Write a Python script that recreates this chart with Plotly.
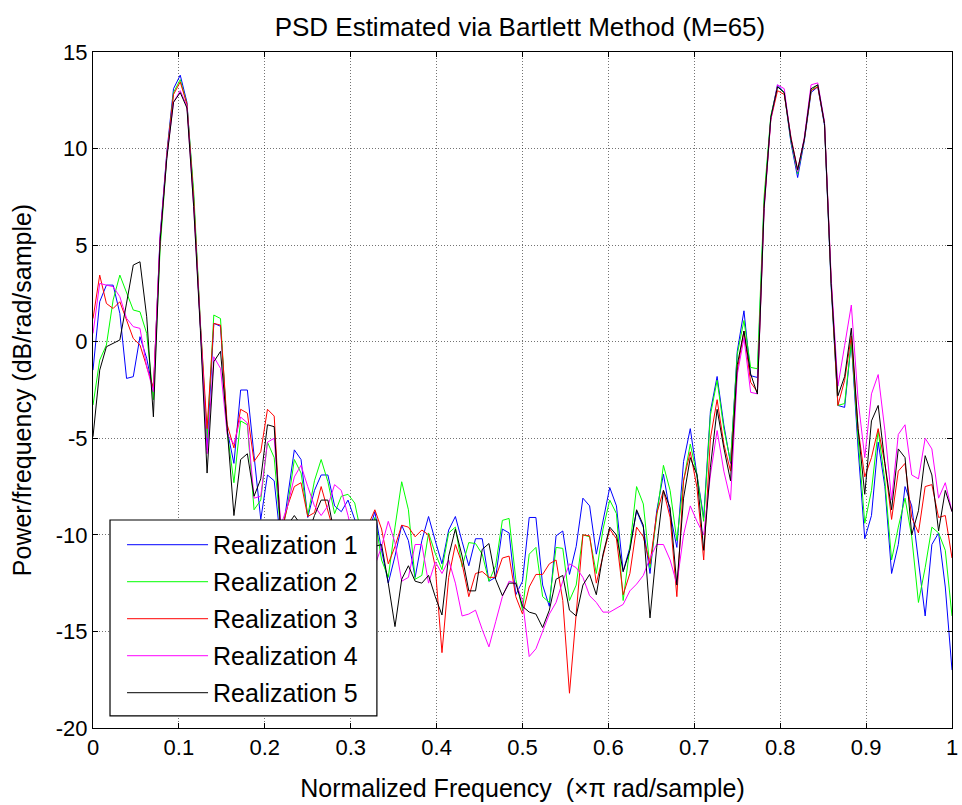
import numpy as np
import plotly.graph_objects as go

# Normalized frequency grid (129 bins, 0..1 x pi rad/sample)
n_bins = 129
freq = np.arange(n_bins) / (n_bins - 1)

real1 = [-1.47, 2.07, 2.93, 2.93, 1.47, -1.9, -1.81, 0.26, -0.86, -2.6,
         5.5, 9.8, 13.1, 13.8, 12.4, 7.5, 0.8, -5.6, 0.95, 0.8,
         -4.6, -6.3, -2.5, -2.5, -5.9, -9.2, -6.9, -7.2, -10.5, -8.0,
         -5.6, -6.1, -9.1, -7.7, -6.9, -6.9, -8.5, -8.8, -8.2, -9.2,
         -10.3, -10.0, -8.8, -10.8, -12.5, -11.1, -9.5, -10.3, -12.2, -10.3,
         -9.05, -10.3, -11.5, -9.75, -9.05, -10.35, -11.6, -10.2, -10.2, -12.4,
         -12.2, -9.7, -9.9, -13.1, -12.4, -9.1, -9.1, -12.6, -13.7, -10.05,
         -9.8, -12.05, -10.6, -8.1, -8.5, -11.0, -9.2, -7.55, -8.5, -11.9,
         -10.65, -8.76, -9.6, -12.0, -8.76, -6.86, -8.9, -10.65, -6.2, -4.5,
         -6.9, -9.1, -3.6, -1.8, -4.3, -6.3, -0.5, 1.6, -1.76, -1.85,
         7.2, 11.6, 13.3, 12.9, 10.3, 8.5, 10.4, 12.9, 13.2, 11.2,
         2.8, -3.3, -3.4, 0.0, -5.5, -10.2, -9.0, -5.2, -7.5, -12.0,
         -10.5, -7.5, -8.5, -11.5, -14.2, -10.5, -9.9, -12.7, -17.0]

real2 = [-3.28, -0.95, -0.17, 2.16, 3.45, 2.5, 1.64, 1.55, 0.43, -3.0,
         4.8, 9.6, 12.9, 13.57, 12.3, 7.8, 1.0, -5.0, 1.38, 1.2,
         -4.7, -7.3, -4.1, -4.3, -8.7, -8.2, -5.2, -6.0, -10.0, -8.5,
         -6.1, -6.8, -9.0, -7.2, -6.1, -7.25, -8.9, -8.0, -7.9, -8.35,
         -10.0, -10.5, -9.1, -11.3, -12.2, -9.6, -7.25, -8.7, -12.3, -12.1,
         -9.9, -10.96, -11.8, -9.9, -9.6, -11.65, -10.4, -10.45, -11.0, -12.4,
         -11.6, -9.25, -9.15, -12.3, -13.9, -11.0, -10.65, -13.2, -13.5, -10.65,
         -10.7, -13.4, -12.6, -10.0, -10.1, -12.0, -9.7, -8.2, -8.9, -13.4,
         -10.65, -7.5, -8.4, -11.7, -8.9, -6.4, -7.7, -10.3, -7.2, -5.3,
         -6.9, -9.3, -3.8, -2.0, -4.5, -6.2, -0.65, 1.1, -1.33, -1.4,
         7.5, 11.7, 13.2, 12.9, 10.4, 8.7, 10.5, 13.0, 13.3, 11.3,
         3.0, -3.3, -3.2, 0.0, -5.0, -9.4, -7.7, -4.6, -7.2, -11.3,
         -9.6, -8.1, -10.1, -13.5, -11.7, -9.6, -9.9, -10.8, -14.2]

real3 = [1.2, 3.45, 1.98, 1.72, 2.07, 1.12, 0.17, -0.17, -1.29, -2.4,
         5.3, 9.7, 12.8, 13.45, 12.3, 7.4, 0.9, -4.5, 0.95, 0.86,
         -4.3, -5.5, -3.5, -3.7, -6.2, -5.7, -3.5, -3.85, -10.0, -8.5,
         -7.5, -7.3, -9.05, -8.85, -7.5, -8.8, -10.0, -10.5, -10.2, -10.0,
         -9.8, -9.5, -8.7, -9.7, -11.5, -10.6, -9.5, -9.6, -10.1, -9.75,
         -10.0, -11.65, -16.1, -12.2, -10.5, -11.5, -13.2, -12.0, -11.9, -12.2,
         -12.2, -11.2, -11.1, -13.2, -14.1, -12.7, -12.05, -12.05, -11.5, -11.3,
         -13.4, -18.2, -14.3, -10.0, -10.05, -12.5, -11.1, -9.7, -10.2, -13.1,
         -12.0, -9.6, -10.1, -11.5, -8.9, -7.7, -9.1, -13.2, -7.2, -5.7,
         -7.55, -11.3, -5.0, -3.0, -5.3, -6.7, -1.5, 0.55, -2.1, -2.6,
         7.0, 11.5, 13.0, 12.8, 10.6, 8.9, 10.5, 13.0, 13.2, 11.3,
         3.1, -3.3, -2.0, 0.3, -4.5, -7.0, -6.0, -4.5, -6.3, -9.2,
         -6.7, -6.3, -9.1, -9.9, -7.5, -7.4, -9.1, -9.0, -11.2]

real4 = [0.43, 3.02, 2.93, 2.85, 2.33, 1.21, 0.78, 0.69, -1.29, -2.6,
         5.4, 9.6, 12.4, 13.0, 12.2, 7.0, 0.8, -5.8, -0.78, -1.38,
         -4.8, -5.3, -3.9, -4.2, -8.1, -8.0, -5.2, -5.0, -9.5, -8.5,
         -7.0, -6.4, -7.5, -8.5, -9.0, -8.5, -7.4, -7.7, -9.0, -10.5,
         -11.0, -12.0, -11.6, -10.6, -9.3, -10.4, -12.4, -12.2, -10.5, -10.5,
         -12.5, -11.4, -12.0, -11.3, -12.5, -14.2, -14.1, -13.9, -14.9, -15.8,
         -14.5, -13.2, -12.4, -12.5, -13.4, -16.3, -15.9, -15.0, -14.1, -13.5,
         -12.4, -11.5, -11.7, -12.2, -13.15, -13.5, -14.0, -14.0, -13.8, -13.6,
         -12.9, -12.55, -12.1, -11.2, -10.5, -10.5, -11.3, -12.55, -10.0, -8.5,
         -9.3, -10.0, -6.9, -4.6, -6.7, -8.2, -1.7, 0.2, -2.62, -2.7,
         6.8, 11.5, 13.3, 13.1, 10.5, 8.8, 10.6, 13.3, 13.4, 11.4,
         3.3, -2.3, -0.2, 1.9, -3.0, -6.0, -2.7, -1.7, -4.6, -8.2,
         -4.8, -4.3, -6.9, -7.1, -5.0, -5.55, -8.1, -7.3, -8.8]

real5 = [-4.92, -1.47, -0.26, -0.09, 0.09, 2.0, 3.97, 4.14, 1.29, -3.89,
         5.2, 9.5, 12.4, 12.9, 12.1, 7.0, 0.6, -6.8, -1.04, -0.5,
         -4.5, -9.0, -6.1, -5.8, -8.0, -7.1, -4.3, -4.4, -10.0, -9.5,
         -9.0, -9.5, -10.0, -9.0, -8.2, -8.2, -10.0, -11.0, -12.0, -11.0,
         -10.5, -10.5, -10.6, -10.5, -12.5, -14.75, -12.3, -11.6, -12.4, -12.5,
         -12.1, -13.2, -14.15, -11.1, -9.7, -11.1, -12.9, -12.9, -10.75, -10.45,
         -12.3, -13.15, -12.5, -12.5, -13.7, -14.0, -14.1, -14.8, -13.9, -12.3,
         -12.1, -13.9, -14.2, -12.6, -12.05, -13.1, -11.0, -9.6, -10.0, -11.9,
         -10.8, -8.7, -9.5, -14.3, -10.65, -7.7, -8.6, -12.6, -8.1, -6.0,
         -6.9, -10.8, -6.5, -3.5, -5.5, -7.2, -1.2, 0.55, -1.67, -2.71,
         6.9, 11.6, 13.2, 12.9, 10.5, 8.9, 10.5, 13.1, 13.3, 11.3,
         3.0, -2.8, -1.8, 0.7, -4.5, -7.9, -4.1, -3.3, -6.3, -8.7,
         -5.55, -6.0, -10.0, -8.75, -5.9, -6.9, -9.8, -7.7, -8.8]

series_names = ["Realization 1", "Realization 2", "Realization 3",
                "Realization 4", "Realization 5"]
series_values = [real1, real2, real3, real4, real5]
series_colors = ["#0000ff", "#00ff00", "#ff0000", "#ff00ff", "#000000"]

x_tickvals = [0, 0.1, 0.2, 0.3, 0.4, 0.5, 0.6, 0.7, 0.8, 0.9, 1.0]
x_ticktext = ["0", "0.1", "0.2", "0.3", "0.4", "0.5", "0.6", "0.7", "0.8", "0.9", "1"]
y_tickvals = [-20, -15, -10, -5, 0, 5, 10, 15]
y_ticktext = ["-20", "-15", "-10", "-5", "0", "5", "10", "15"]

FONT = "Arial, Liberation Sans, sans-serif"

fig = go.Figure()
for i, (name, vals, col) in enumerate(zip(series_names, series_values, series_colors)):
    fig.add_trace(go.Scatter(
        x=freq, y=vals, mode="lines", name=name,
        line=dict(color=col, width=1),
        legendgroup=f"g{i}",
    ))

axis_common = dict(
    showline=True, linecolor="black", linewidth=1, mirror="ticks",
    ticks="inside", ticklen=5, tickcolor="black", automargin=False,
    showgrid=True, gridcolor="rgba(0,0,0,0.55)", griddash="1px,2px", gridwidth=1,
    zeroline=False, tickfont=dict(family=FONT, size=22, color="black"),
)

# legend frame (white box drawn over the traces)
fig.add_shape(type="rect", xref="paper", yref="paper",
              x0=0.0198, x1=0.3305, y0=0.0178, y1=0.3077,
              line=dict(color="black", width=1.2), fillcolor="white", layer="above")

fig.update_layout(
    width=962, height=805,
    margin=dict(l=93, r=10, t=52, b=77),
    paper_bgcolor="white", plot_bgcolor="white",
    title=dict(text="PSD Estimated via Bartlett Method (M=65)",
               xref="paper", x=0.497, xanchor="center", y=1 - 27 / 805, yanchor="middle",
               font=dict(family=FONT, size=26, color="black")),
    xaxis=dict(range=[0, 1], tickvals=x_tickvals, ticktext=x_ticktext,
               title=dict(text="Normalized Frequency  (\u00d7\u03c0 rad/sample)",
                          font=dict(family=FONT, size=25, color="black"), standoff=20),
               **axis_common),
    yaxis=dict(range=[-20, 15], tickvals=y_tickvals, ticktext=y_ticktext,
               title=dict(text="Power/frequency (dB/rad/sample)",
                          font=dict(family=FONT, size=25, color="black"), standoff=17),
               **axis_common),
    legend=dict(x=0.0338, y=0.3048, xanchor="left", yanchor="top",
                bgcolor="rgba(0,0,0,0)", borderwidth=0,
                font=dict(family=FONT, size=25, color="black"),
                itemwidth=81, tracegroupgap=1.5),
    showlegend=True,
)

fig.write_html("out.html")
